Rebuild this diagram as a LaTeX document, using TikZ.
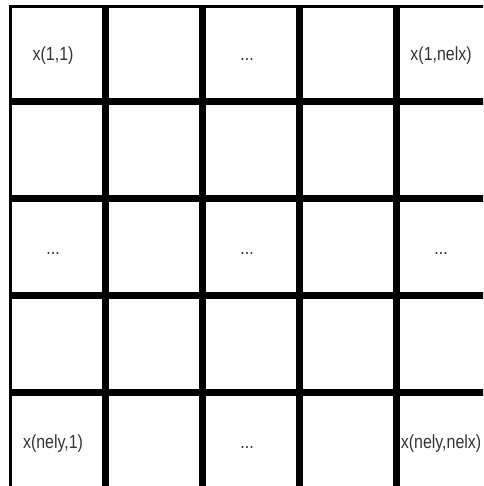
\documentclass[tikz,border=0pt]{standalone}
\usepackage{fontspec}
\setmainfont{Liberation Sans}
\newfontfamily\cellfont[FakeStretch=0.84]{Liberation Sans}
\usetikzlibrary{calc}
\definecolor{gridline}{HTML}{000000}
\definecolor{inktext}{HTML}{333333}
\newcommand{\edots}{...}

\begin{document}
\begin{tikzpicture}[
  x=1pt, y=-1pt,
  cell/.style={draw=gridline, line width=3.5pt, fill=white, inner sep=0pt,
               minimum width=93.5pt, minimum height=93.5pt},
  lbl/.style={font=\cellfont\fontsize{19}{22}\selectfont, text=inktext, inner sep=0pt,
              text height=14.5pt, text depth=5.5pt},
]

% ---- frame (grid runs off the right and bottom edge) ----
\path[use as bounding box, clip] (0,0) rectangle (483,486);

% ---- cells ----
\foreach \r in {1,...,5} {
  \foreach \c in {1,...,5} {
    \node[cell] (c\r\c) at ({57.05+97*(\c-1)}, {53.45+97*(\r-1)}) {};
  }
}

% ---- entries ----
\node[lbl] (t11) at ([shift={(-4,3)}]c11.center) {x(1,1)};
\node[lbl] (t13) at ([shift={(-4,3)}]c13.center) {\edots};
\node[lbl] (t15) at ([shift={(-4,3)}]c15.center) {x(1,nelx)};
\node[lbl] (t31) at ([shift={(-4,3)}]c31.center) {\edots};
\node[lbl] (t33) at ([shift={(-4,3)}]c33.center) {\edots};
\node[lbl] (t35) at ([shift={(-4,3)}]c35.center) {\edots};
\node[lbl] (t51) at ([shift={(-4,3)}]c51.center) {x(nely,1)};
\node[lbl] (t53) at ([shift={(-4,3)}]c53.center) {\edots};
\node[lbl] (t55) at ([shift={(-4,3)}]c55.center) {x(nely,nelx)};

\end{tikzpicture}
\end{document}
